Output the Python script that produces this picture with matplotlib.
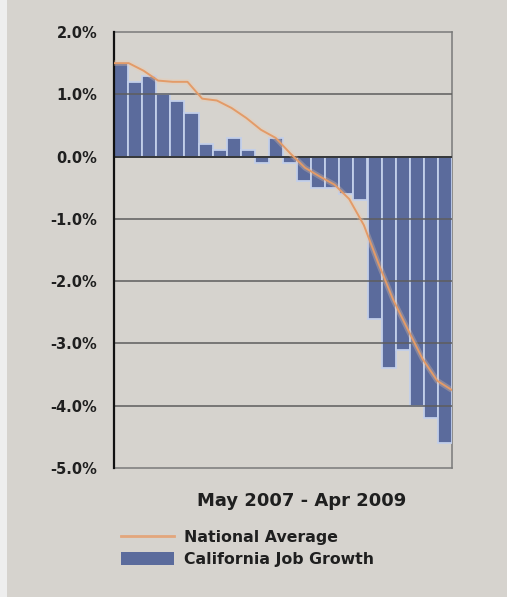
import numpy as np
import matplotlib
matplotlib.use("Agg")
import matplotlib.pyplot as plt
from matplotlib.ticker import FuncFormatter, MultipleLocator
from matplotlib.patches import Rectangle

# ---- data (percent) ----
months = ["May 2007", "Jun 2007", "Jul 2007", "Aug 2007", "Sep 2007", "Oct 2007",
          "Nov 2007", "Dec 2007", "Jan 2008", "Feb 2008", "Mar 2008", "Apr 2008",
          "May 2008", "Jun 2008", "Jul 2008", "Aug 2008", "Sep 2008", "Oct 2008",
          "Nov 2008", "Dec 2008", "Jan 2009", "Feb 2009", "Mar 2009", "Apr 2009"]
california = [1.5, 1.2, 1.3, 1.0, 0.9, 0.7, 0.2, 0.1, 0.3, 0.1, -0.1, 0.3,
              -0.1, -0.4, -0.5, -0.5, -0.6, -0.7, -2.6, -3.4, -3.1, -4.0, -4.2, -4.6]
national = [1.5, 1.5, 1.38, 1.22, 1.2, 1.2, 0.93, 0.9, 0.78, 0.62, 0.43, 0.3,
            0.05, -0.18, -0.32, -0.45, -0.68, -1.1, -1.72, -2.3, -2.78, -3.25, -3.6, -3.75]
y_ticks = [-5, -4, -3, -2, -1, 0, 1, 2]
x_title = "May 2007 - Apr 2009"
series_names = ["National Average", "California Job Growth"]

BG = "#d6d3ce"
BAR = "#5b6b9c"
BAR_EDGE = "#c3cfea"
LINE = "#e39b68"
TXT = "#1f1f1f"

fig = plt.figure(figsize=(5.07, 5.97), dpi=100, facecolor=BG)
fig.add_artist(Rectangle((0, 0), 7 / 507, 1, transform=fig.transFigure,
                         facecolor="#eeeeee", edgecolor="none", zorder=0))

ax = fig.add_axes([114 / 507, 1 - 468 / 597, 338 / 507, 436 / 597])
ax.set_facecolor(BG)

x = np.arange(len(california)) + 0.5
bars = ax.bar(x, california, width=1.0, color=BAR, edgecolor=BAR_EDGE,
              linewidth=1.3, zorder=3)
ax.set_xlim(0, len(california))
ax.set_ylim(min(y_ticks), max(y_ticks))
ax.yaxis.set_major_locator(MultipleLocator(1))
ax.yaxis.set_major_formatter(FuncFormatter(lambda v, p: f"{v:.1f}%"))
ax.set_xticks([])
for v in y_ticks[1:-1]:
    if v == 0:
        continue
    ax.axhline(v, color="#5e5e5e", lw=1.3, alpha=0.85, zorder=4)
ax.axhline(0, color="#2a2a2a", lw=1.3, zorder=4)

ax.tick_params(axis="y", length=0, pad=12, labelsize=10.5, labelcolor=TXT)
for lab in ax.get_yticklabels():
    lab.set_fontweight("bold")

for side in ["top", "right", "bottom"]:
    ax.spines[side].set_color("#7a7a7a")
    ax.spines[side].set_linewidth(1.1)
ax.spines["left"].set_color("#111111")
ax.spines["left"].set_linewidth(1.6)
ax.spines["left"].set_zorder(5)

# national line on secondary category axis (points on tick marks)
ax2 = ax.twiny()
ax2.set_xlim(0, len(national) - 1)
ax2.plot(np.arange(len(national)), national, color="#f2c9a4", lw=4, alpha=0.3,
         zorder=5, solid_capstyle="butt")
line, = ax2.plot(np.arange(len(national)), national, color=LINE, lw=1.4, zorder=6)
ax2.set_xticks([])
for s in ax2.spines.values():
    s.set_visible(False)

fig.text(302 / 507, 1 - 506.5 / 597, x_title, ha="center", va="baseline",
         fontsize=13, fontweight="bold", color=TXT)

leg = fig.legend([line, bars], series_names, loc="upper left",
                 bbox_to_anchor=(121 / 507, 1 - 530 / 597), frameon=False,
                 prop={"weight": "bold", "size": 11.3}, handlelength=3.4,
                 handleheight=0.85, handletextpad=0.6, labelspacing=0.45,
                 borderpad=0, borderaxespad=0)
for t in leg.get_texts():
    t.set_color(TXT)
leg.legend_handles[0].set_color("#e3a67c")
leg.legend_handles[0].set_linewidth(2)
leg.legend_handles[1].set_edgecolor("none")

fig.savefig("out.png", dpi=100, facecolor=BG)
